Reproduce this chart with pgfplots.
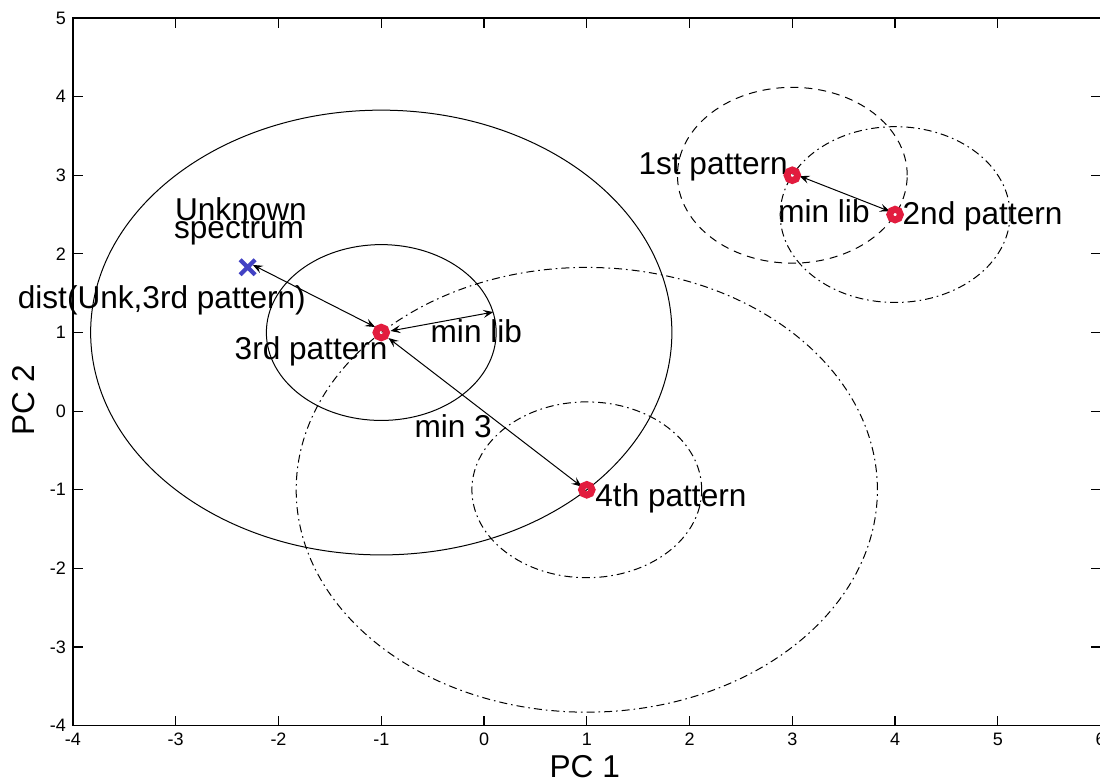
\documentclass[border=0pt]{standalone}
\usepackage{fontspec}
\setmainfont{Liberation Sans}
\usepackage{pgfplots}
\pgfplotsset{compat=1.18}
\usetikzlibrary{arrows.meta}
\definecolor{mred}{RGB}{226,28,62}
\definecolor{mblue}{RGB}{66,66,196}
\tikzset{
  mh/.tip={Stealth[length=5pt,width=4pt,inset=2pt]},
  dd/.style={line width=0.5pt, dash pattern=on 4pt off 2pt on 0.8pt off 2pt},
  ds/.style={line width=0.5pt, dash pattern=on 4pt off 3pt},
  lbl/.style={anchor=base west, inner sep=0pt, font=\fontsize{15.8}{15.8}\selectfont}
}
\begin{document}
\begin{tikzpicture}
\begin{axis}[
  scale only axis, width=514pt, height=354pt,
  xmin=-4, xmax=6, ymin=-4, ymax=5,
  xtick={-4,-3,...,6}, ytick={-4,-3,...,5},
  tick align=inside, major tick length=5pt,
  axis line style={line width=0.7pt},
  tick style={line width=0.6pt, black},
  /pgf/number format/assume math mode=true,
  ticklabel style={font=\fontsize{9}{9}\selectfont},
  clip=false,
  xlabel={PC 1}, ylabel={PC 2},
  label style={font=\fontsize{15.8}{15.8}\selectfont},
  xlabel style={at={(axis description cs:0.498,0)}, anchor=center, yshift=-20.5pt},
  ylabel style={at={(axis description cs:-0.0477,0.46)}, anchor=center},
]
% circles
\draw[line width=0.5pt] (axis cs:-1,1) ellipse [x radius=2.828, y radius=2.828];
\draw[line width=0.5pt] (axis cs:-1,1) ellipse [x radius=1.118, y radius=1.118];
\draw[dd] (axis cs:1,-1) ellipse [x radius=2.828, y radius=2.828];
\draw[dd] (axis cs:1,-1) ellipse [x radius=1.118, y radius=1.118];
\draw[ds] (axis cs:3,3) ellipse [x radius=1.118, y radius=1.118];
\draw[dd] (axis cs:4,2.5) ellipse [x radius=1.118, y radius=1.118];
% arrows
\addplot[mh-mh, line width=0.5pt, black] coordinates {(-2.25,1.86) (-1.06,1.07)};
\addplot[mh-mh, line width=0.5pt, black] coordinates {(-0.91,1.02) (0.09,1.26)};
\addplot[mh-mh, line width=0.5pt, black] coordinates {(-0.93,0.93) (0.95,-0.96)};
\addplot[mh-mh, line width=0.5pt, black] coordinates {(3.07,2.99) (3.95,2.54)};
% markers
\addplot[only marks, mark=o, mark size=2.65pt, line width=3.4pt, draw=mred, mark options={fill=white}]
  coordinates {(3,3) (4,2.5) (-1,1) (1,-1)};
\addplot[only marks, mark=x, mark size=5.3pt, line width=2.1pt, mblue]
  coordinates {(-2.3,1.83)};
% labels
\node[lbl] at (axis cs:-3.01,2.43) {Unknown};
\node[lbl] at (axis cs:-3.02,2.19) {spectrum};
\node[lbl] at (axis cs:-4.54,1.305) {dist(Unk,3rd pattern)};
\node[lbl] at (axis cs:-2.43,0.656) {3rd pattern};
\node[lbl] at (axis cs:-0.523,0.873) {min lib};
\node[lbl] at (axis cs:-0.68,-0.336) {min 3};
\node[lbl] at (axis cs:1.08,-1.214) {4th pattern};
\node[lbl] at (axis cs:1.50,3.01) {1st pattern};
\node[lbl] at (axis cs:2.86,2.40) {min lib};
\node[lbl] at (axis cs:4.07,2.37) {2nd pattern};
\end{axis}
\pgfresetboundingbox
\path ([xshift=-36.5pt,yshift=-28pt]current axis.south west) rectangle ([xshift=-0.3pt,yshift=9pt]current axis.north east);
\end{tikzpicture}
\end{document}
